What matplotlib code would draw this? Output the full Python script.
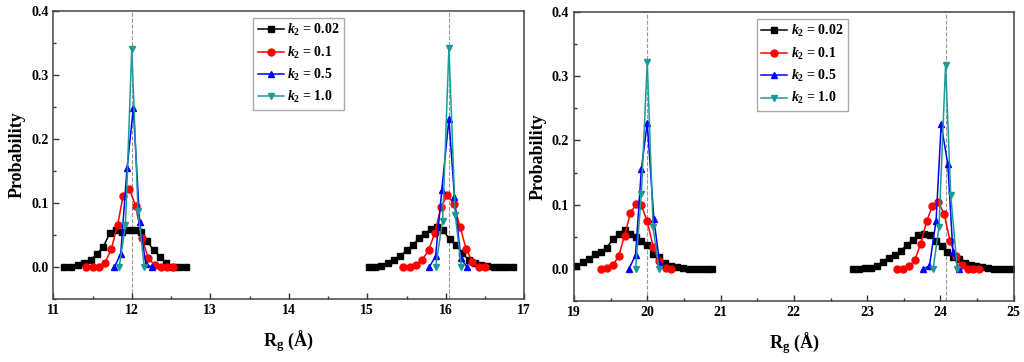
import matplotlib
matplotlib.use("Agg")
import matplotlib.pyplot as plt
from matplotlib.ticker import MultipleLocator

plt.rcParams['font.family'] = ['Liberation Serif', 'DejaVu Serif']
plt.rcParams['font.weight'] = 'bold'
plt.rcParams['mathtext.fontset'] = 'custom'
plt.rcParams['mathtext.rm'] = 'Liberation Serif:bold'
plt.rcParams['mathtext.it'] = 'Liberation Serif:bold:italic'
plt.rcParams['mathtext.bf'] = 'Liberation Serif:bold'

LABELS = [r'$k_2$ = 0.02', r'$k_2$ = 0.1', r'$k_2$ = 0.5', r'$k_2$ = 1.0']
COLORS = ['black', 'red', 'blue', '#1a9a9a']
MARKERS = ['s', 'o', '^', 'v']

# ---- left panel, peak near 12 ----
a1_x002 = [11.14, 11.23, 11.31, 11.39, 11.48, 11.56, 11.64, 11.72, 11.80, 11.88,
           11.96, 12.04, 12.12, 12.20, 12.28, 12.36, 12.44, 12.52, 12.60, 12.69]
a1_y002 = [0.0, 0.0, 0.003, 0.006, 0.011, 0.021, 0.032, 0.053, 0.058, 0.055,
           0.057, 0.057, 0.055, 0.040, 0.026, 0.016, 0.006, 0.0, 0.0, 0.0]
a1_x01 = [11.42, 11.50, 11.58, 11.66, 11.74, 11.82, 11.89, 11.97, 12.05, 12.13,
          12.21, 12.29, 12.37, 12.45, 12.53]
a1_y01 = [0.0, 0.0, 0.0005, 0.007, 0.028, 0.066, 0.111, 0.122, 0.095, 0.045,
          0.014, 0.003, 0.0005, 0.0, 0.0]
a1_x05 = [11.78, 11.86, 11.94, 12.02, 12.10, 12.18, 12.26]
a1_y05 = [0.0, 0.021, 0.154, 0.248, 0.071, 0.004, 0.0]
a1_x10 = [11.84, 11.92, 12.00, 12.08, 12.16]
a1_y10 = [0.0, 0.066, 0.340, 0.088, 0.0]

# ---- left panel, peak near 16 ----
a2_x002 = [15.02, 15.10, 15.18, 15.26, 15.34, 15.42, 15.50, 15.58, 15.66, 15.73,
           15.81, 15.89, 15.97, 16.05, 16.13, 16.21, 16.29, 16.37, 16.45, 16.53,
           16.61, 16.69, 16.77, 16.85]
a2_y002 = [0.0, 0.0, 0.002, 0.006, 0.011, 0.017, 0.026, 0.034, 0.045, 0.052,
           0.059, 0.063, 0.057, 0.043, 0.034, 0.022, 0.011, 0.006, 0.003, 0.002,
           0.0, 0.0, 0.0, 0.0]
a2_x01 = [15.46, 15.54, 15.62, 15.70, 15.78, 15.86, 15.94, 16.02, 16.10, 16.18,
          16.26, 16.34, 16.42, 16.50]
a2_y01 = [0.0, 0.0, 0.003, 0.011, 0.026, 0.053, 0.094, 0.112, 0.099, 0.063,
          0.028, 0.008, 0.0, 0.0]
a2_x05 = [15.79, 15.87, 15.95, 16.04, 16.11, 16.19, 16.27]
a2_y05 = [0.0, 0.017, 0.121, 0.231, 0.110, 0.014, 0.0]
a2_x10 = [15.87, 15.96, 16.04, 16.12, 16.20]
a2_y10 = [0.0, 0.072, 0.342, 0.081, 0.0]

# ---- right panel, peak near 20 ----
b1_x002 = [19.03, 19.12, 19.20, 19.29, 19.37, 19.45, 19.53, 19.61, 19.69, 19.77,
           19.85, 19.92, 20.00, 20.08, 20.16, 20.24, 20.33, 20.41, 20.49, 20.57,
           20.65, 20.73, 20.81, 20.89]
b1_y002 = [0.004, 0.011, 0.016, 0.023, 0.027, 0.033, 0.047, 0.054, 0.061, 0.054,
           0.050, 0.043, 0.038, 0.024, 0.019, 0.010, 0.005, 0.003, 0.001, 0.0,
           0.0, 0.0, 0.0, 0.0]
b1_x01 = [19.37, 19.45, 19.53, 19.61, 19.69, 19.77, 19.85, 19.92, 20.00, 20.08,
          20.16, 20.25, 20.33]
b1_y01 = [0.0, 0.001, 0.006, 0.020, 0.052, 0.087, 0.101, 0.099, 0.074, 0.035,
          0.012, 0.002, 0.0]
b1_x05 = [19.75, 19.84, 19.92, 20.00, 20.09, 20.17]
b1_y05 = [0.0, 0.022, 0.156, 0.227, 0.078, 0.008]
b1_x10 = [19.84, 19.92, 20.00, 20.08, 20.16]
b1_y10 = [0.0, 0.117, 0.322, 0.065, 0.0]

# ---- right panel, peak near 24 ----
b2_x002 = [22.81, 22.89, 22.97, 23.05, 23.13, 23.22, 23.30, 23.38, 23.46, 23.54,
           23.62, 23.70, 23.78, 23.86, 23.94, 24.02, 24.09, 24.17, 24.25, 24.33,
           24.41, 24.49, 24.57, 24.65, 24.73, 24.81, 24.89, 24.97]
b2_y002 = [0.0, 0.0, 0.001, 0.002, 0.005, 0.011, 0.017, 0.022, 0.028, 0.038,
           0.045, 0.053, 0.054, 0.053, 0.044, 0.036, 0.027, 0.019, 0.015, 0.009,
           0.006, 0.004, 0.003, 0.001, 0.0, 0.0, 0.0, 0.0]
b2_x01 = [23.41, 23.49, 23.57, 23.65, 23.73, 23.81, 23.89, 23.97, 24.05, 24.13,
          24.21, 24.29, 24.37, 24.45, 24.53]
b2_y01 = [0.0, 0.0, 0.004, 0.014, 0.039, 0.074, 0.098, 0.104, 0.086, 0.044,
          0.020, 0.006, 0.0, 0.0, 0.0]
b2_x05 = [23.76, 23.85, 23.94, 24.01, 24.10, 24.17, 24.25]
b2_y05 = [0.0, 0.005, 0.075, 0.225, 0.163, 0.027, 0.0]
b2_x10 = [23.90, 23.98, 24.07, 24.14, 24.23]
b2_y10 = [0.0, 0.066, 0.318, 0.115, 0.0]

LEFT_CENTERS = [12.0, 16.04]
RIGHT_CENTERS = [20.0, 24.07]


def draw_panel(ax, groups, centers, xlim, legend_x):
    for cx in centers:
        ax.axvline(cx, color='#999999', linestyle='--', linewidth=0.8, zorder=1)
    for g in groups:
        for i in range(4):
            xs, ys = g[i]
            ax.plot(xs, ys, color=COLORS[i], marker=MARKERS[i], markersize=5,
                    linewidth=1.1, label=LABELS[i] if g is groups[0] else None,
                    zorder=2 + i)
    ax.set_xlim(*xlim)
    ax.set_ylim(-0.05, 0.4)
    ax.xaxis.set_major_locator(MultipleLocator(1))
    ax.xaxis.set_minor_locator(MultipleLocator(0.5))
    ax.yaxis.set_major_locator(MultipleLocator(0.1))
    ax.yaxis.set_minor_locator(MultipleLocator(0.05))
    ax.tick_params(which='both', direction='in', top=False, right=False,
                   labelsize=10, width=1, color='#333333')
    ax.tick_params(which='major', length=4)
    ax.tick_params(which='minor', length=2.5)
    ax.set_yticks([0.0, 0.1, 0.2, 0.3, 0.4])
    ax.set_yticklabels(['0.0', '0.1', '0.2', '0.3', '0.4'])
    for s in ax.spines.values():
        s.set_color('#444444')
        s.set_linewidth(1.1)
    ax.set_xlabel(r'R$_{\mathbf{g}}$ (Å)', fontsize=13, fontweight='bold', labelpad=8)
    ax.set_ylabel('Probability', fontsize=13, fontweight='bold', labelpad=4)
    leg = ax.legend(loc='upper left', bbox_to_anchor=(legend_x, 0.975),
                    borderaxespad=0, fancybox=False, edgecolor='#aaaaaa',
                    fontsize=10, handlelength=1.9, labelspacing=0.45,
                    borderpad=0.3, handletextpad=0.25, framealpha=1)
    leg.get_frame().set_linewidth(1)


fig = plt.figure(figsize=(10.24, 3.62), dpi=100)
ax1 = fig.add_axes([0.052, 0.174, 0.46, 0.796])
ax2 = fig.add_axes([0.5605, 0.168, 0.4295, 0.799])

left_groups = [
    [(a1_x002, a1_y002), (a1_x01, a1_y01), (a1_x05, a1_y05), (a1_x10, a1_y10)],
    [(a2_x002, a2_y002), (a2_x01, a2_y01), (a2_x05, a2_y05), (a2_x10, a2_y10)],
]
right_groups = [
    [(b1_x002, b1_y002), (b1_x01, b1_y01), (b1_x05, b1_y05), (b1_x10, b1_y10)],
    [(b2_x002, b2_y002), (b2_x01, b2_y01), (b2_x05, b2_y05), (b2_x10, b2_y10)],
]

draw_panel(ax1, left_groups, LEFT_CENTERS, (11, 17), 0.425)
draw_panel(ax2, right_groups, RIGHT_CENTERS, (19, 25), 0.416)

fig.savefig('out.png', dpi=100)
